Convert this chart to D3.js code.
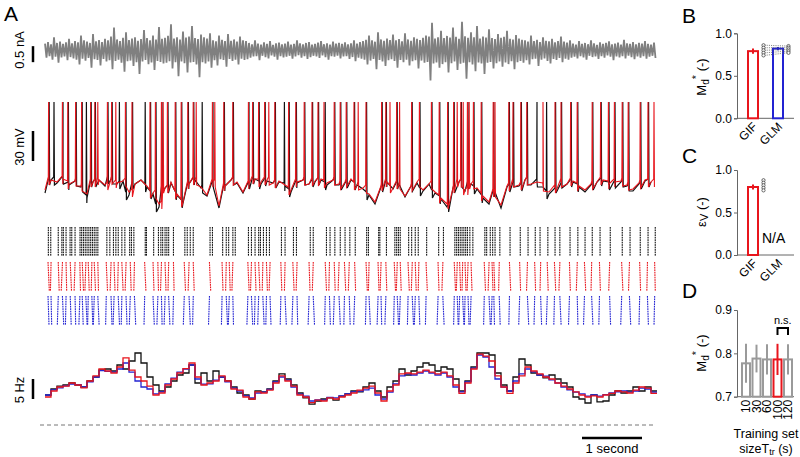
<!DOCTYPE html>
<html>
<head>
<meta charset="utf-8">
<title>GIF / GLM spike prediction</title>
<script src="https://cdn.jsdelivr.net/npm/d3@7"></script>
<style>
  body { margin: 0; background: #fff; }
  text { font-family: "Liberation Sans", Arial, sans-serif; }
</style>
</head>
<body>
<svg id="fig" width="800" height="457"></svg>
<script>
// ---- panel A data ----
// injected current, upper / lower excursion per 50 ms bin (nA)
var currentHi = [
  .20,.25,.18,.40,.22,.26,.19,.24,.35,.21, .28,.24,.45,.30,.26,.22,.50,.27,.31,.25,
  .35,.30,.42,.70,.33,.28,.38,.55,.31,.36, .40,.29,.34,.62,.37,.30,.45,.33,.72,.35,
  .38,.44,.80,.36,.40,.33,.58,.39,.42,.75, .37,.34,.48,.40,.36,.52,
  .30,.27,.45,.32,.28,.50,.29,.33,.26,.42,.30,.28,
  .22,.18,.30,.20,.17,.24,.19,.28,.16,.21,.23,.18,
  .20,.26,.17,.19,.30,.21,.18,.22,.25,.17, .19,.23,.28,.18,.21,.17,.26,.20,.22,.19,
  .24,.18,.21,.30,.20,.25,
  .28,.32,.45,.30,.26,.55,.33,.29,.36,.31, .48,.30,.34,.27,.52,.33,.29,.40,.35,.31,
  .38,.45,.42,.85,.36,.40,.60,.37,.44,.39, .70,.41,.35,.88,.43,.38,.55,.40,.75,.36,
  .42,.39,.65,.37,.34,.50,.38,.41,.60,.35,.33,.47,.36,.32,
  .30,.26,.45,.28,.32,.25,.40,.29,.27,.35,.24,.28,.42,.26,.23,.30,
  .20,.17,.28,.19,.22,.18,.30,.21,.16,.24, .19,.22,.27,.18,.20,.23,.17,.32,.21,.19,
  .25,.18,.22,.20,.28,.19,.17,.23];
var currentLo = [
  -.24,-.19,-.30,-.21,-.40,-.23,-.20,-.32,-.22,-.26, -.30,-.45,-.27,-.33,-.25,-.55,-.29,-.31,-.48,-.28,
  -.36,-.32,-.60,-.34,-.30,-.40,-.68,-.35,-.33,-.50, -.38,-.75,-.36,-.31,-.44,-.39,-.62,-.34,-.37,-.42,
  -.40,-.35,-.58,-.38,-.82,-.36,-.41,-.70,-.39,-.37, -.45,-.85,-.38,-.42,-.36,-.55,
  -.32,-.48,-.29,-.31,-.52,-.28,-.34,-.30,-.45,-.27,-.31,-.29,
  -.24,-.20,-.19,-.32,-.18,-.22,-.26,-.17,-.21,-.30,-.19,-.23,
  -.21,-.18,-.27,-.20,-.16,-.24,-.19,-.28,-.22,-.18, -.20,-.25,-.17,-.22,-.30,-.19,-.21,-.18,-.26,-.20,
  -.19,-.28,-.22,-.35,-.24,-.27,
  -.30,-.45,-.33,-.28,-.60,-.31,-.36,-.50,-.32,-.29, -.34,-.55,-.31,-.38,-.30,-.48,-.35,-.32,-.58,-.33,
  -.40,-.37,-.95,-.42,-.39,-.55,-.44,-.38,-.70,-.41, -.36,-.62,-.43,-.40,-.90,-.38,-.45,-.66,-.39,-.42,
  -.75,-.40,-.37,-.58,-.41,-.36,-.52,-.39,-.44,-.35,-.60,-.38,-.34,-.40,
  -.32,-.45,-.29,-.27,-.50,-.30,-.26,-.34,-.42,-.28,-.31,-.25,-.38,-.27,-.30,-.24,
  -.21,-.26,-.19,-.23,-.30,-.18,-.22,-.20,-.28,-.19, -.24,-.17,-.21,-.32,-.20,-.23,-.19,-.26,-.18,-.22,
  -.29,-.20,-.24,-.19,-.27,-.21,-.18,-.25];

// subthreshold membrane potential every 100 ms (mV)
var vmData = [
  -71,-58,-61,-57,-63,-59,-65,-76,-60,-58, -64,-57,-62,-59,-73,-62,-58,-65,-72,-85,
  -66,-61,-73,-81,-62,-58,-66,-74,-61,-86, -64,-58,-61,-71,-62,-57,-62,-59,-61,-60,
  -64,-70,-61,-58,-62,-60,-58,-63,-58,-63, -61,-58,-63,-67,-73,-82,-65,-60,-67,-62,
  -75,-64,-61,-69,-62,-71,-77,-85,-66,-60, -69,-62,-67,-76,-82,-70,-86,-65,-60,-64,
  -58,-63,-60,-65,-72,-66,-61,-62,-60,-65, -70,-63,-60,-59,-63,-61,-60,-64,-69,-62,
  -59,-60];
var vmGIF = [
  -68,-58,-60,-57,-62,-59,-64,-72,-60,-58, -63,-57,-61,-59,-70,-62,-58,-64,-71,-82,
  -66,-60,-72,-80,-62,-58,-65,-73,-60,-84, -64,-58,-60,-70,-62,-57,-60,-58,-61,-59,
  -63,-68,-60,-58,-62,-59,-57,-61,-58,-62, -60,-57,-63,-66,-72,-80,-64,-60,-66,-62,
  -74,-64,-60,-68,-62,-70,-76,-82,-66,-60, -68,-62,-66,-74,-80,-70,-83,-64,-60,-63,
  -58,-62,-60,-64,-70,-66,-60,-62,-59,-64, -68,-62,-60,-58,-62,-60,-59,-63,-67,-61,
  -58,-60];
var spikeData = [0.07,0.15,0.30,0.39,0.52,0.62,0.69,0.77,0.84,1.05,1.12,1.24,1.35,1.46,1.67,1.76,1.85,1.95,
  2.05,2.18,2.28,2.39,2.48,2.62,2.80,2.99,3.14,3.40,3.47,3.57,3.67,3.84,3.99,4.07,4.19,4.33,4.46,4.56,
  4.67,4.83,4.93,5.03,5.16,5.36,5.62,5.69,5.87,6.12,6.25,6.45,6.58,6.72,6.82,6.94,7.05,7.15,7.28,7.48,
  7.74,7.81,7.94,8.04,8.20,8.36,8.51,8.61,8.77,8.88,9.13,9.27,9.40,9.50,9.63,9.73,9.93,10.06];
var spikeGIF = [0.06,0.29,0.38,0.51,0.61,0.76,0.83,0.88,1.04,1.11,1.18,1.34,1.45,1.75,1.84,1.94,1.97,2.04,
  2.17,2.27,2.38,2.47,2.52,2.79,2.83,2.98,3.13,3.39,3.46,3.56,3.66,3.73,3.83,4.06,4.18,4.32,4.45,4.55,
  4.65,4.82,4.92,5.02,5.15,5.22,5.35,5.61,5.68,5.75,5.86,5.91,6.11,6.24,6.44,6.57,6.71,6.81,6.87,6.93,
  6.97,7.04,7.07,7.14,7.27,7.47,7.50,7.73,7.80,7.93,8.03,8.30,8.50,8.60,8.76,8.87,9.12,9.26,9.39,9.49,
  9.62,9.72,9.92,10.05,10.15];

// raster columns: data (aligned times); GIF / GLM as [time, drift from first to last trial]
var rasterData = [0.055,0.095,0.22,0.28,0.305,0.35,0.417,0.445,0.5,0.583,0.61,0.64,0.67,0.70,0.73,0.76,0.79,
  0.82,0.85,0.88,1.03,1.08,1.14,1.18,1.22,1.28,1.33,1.41,1.44,1.48,1.67,1.69,1.81,1.89,1.93,1.96,2.0,2.03,
  2.06,2.14,2.33,2.37,2.42,2.47,2.75,2.79,2.96,3.02,3.06,3.13,3.17,3.39,3.44,3.5,3.56,3.59,3.64,3.69,3.74,
  3.94,4.0,4.14,4.19,4.42,4.47,4.69,4.75,4.83,4.92,5.0,5.08,5.17,5.36,5.39,5.56,5.58,5.69,5.83,5.86,5.89,
  5.92,6.06,6.11,6.17,6.22,6.36,6.56,6.64,6.83,6.86,6.89,6.92,6.95,6.98,7.01,7.04,7.08,7.13,7.33,7.36,7.42,
  7.46,7.5,7.58,7.75,7.92,8.05,8.17,8.25,8.38,8.5,8.58,8.75,8.88,9.0,9.12,9.25,9.42,9.62,9.75,9.92,10.05,10.17];
var rasterGIF = [[0.05,.02],[0.10,-.01],[0.22,.015],[0.29,-.02],[0.35,.01],[0.42,.02],[0.50,-.015],[0.58,.01],
  [0.62,.02],[0.68,-.015],[0.72,.015],[0.78,-.01],[0.82,.02],[0.88,.01],[1.02,.02],[1.10,-.015],[1.15,.015],
  [1.22,-.01],[1.28,.02],[1.35,-.015],[1.42,.015],[1.49,-.01],[1.66,.02],[1.80,.015],[1.88,.01],[1.94,-.015],
  [2.00,.015],[2.06,-.01],[2.14,.01],[2.32,.02],[2.40,-.015],[2.47,.015],[2.74,.02],[2.95,.015],[3.02,-.01],
  [3.07,.015],[3.13,-.015],[3.38,.02],[3.44,-.015],[3.50,.015],[3.56,.02],[3.63,-.01],[3.69,.015],[3.75,-.015],
  [3.93,.015],[4.00,-.01],[4.13,.02],[4.20,-.015],[4.40,.015],[4.47,-.015],[4.67,.02],[4.74,-.01],[4.82,.015],
  [4.90,-.015],[4.99,.02],[5.07,-.015],[5.16,.015],[5.35,.02],[5.40,-.01],[5.55,.015],[5.60,-.015],[5.68,.015],
  [5.82,.02],[5.87,-.015],[5.92,.015],[6.05,.02],[6.12,-.015],[6.17,.015],[6.23,-.01],[6.35,.02],[6.55,.015],
  [6.63,-.015],[6.82,.02],[6.87,-.015],[6.91,.015],[6.96,-.01],[7.00,.015],[7.05,-.015],[7.10,.015],[7.32,.02],
  [7.40,-.015],[7.45,.015],[7.48,.015],[7.57,-.01],[7.74,.02],[7.91,.015],[8.04,-.015],[8.16,.015],[8.26,-.01],
  [8.37,.015],[8.49,.02],[8.58,-.015],[8.74,.015],[8.87,-.015],[8.99,.02],[9.11,-.01],[9.24,.015],[9.41,-.015],
  [9.61,.02],[9.74,-.015],[9.91,.015],[10.04,-.01],[10.16,.01]];
var rasterGLM = [[0.05,.015],[0.10,.01],[0.22,-.015],[0.29,.02],[0.35,-.01],[0.42,.015],[0.50,.01],[0.58,-.015],
  [0.62,.015],[0.68,.02],[0.72,-.01],[0.78,.015],[0.82,-.015],[0.88,.02],[1.02,-.01],[1.10,.015],[1.15,-.015],
  [1.22,.02],[1.28,-.01],[1.35,.015],[1.42,-.015],[1.49,.02],[1.66,-.01],[1.80,.02],[1.88,-.015],[1.94,.01],
  [2.00,-.015],[2.06,.02],[2.14,-.01],[2.32,-.015],[2.40,.02],[2.47,-.01],[2.74,-.015],[2.95,-.01],[3.02,.02],
  [3.07,-.015],[3.13,.01],[3.38,-.015],[3.44,.02],[3.50,-.01],[3.56,-.015],[3.63,.02],[3.69,-.01],[3.75,.015],
  [3.93,-.01],[4.00,.02],[4.13,-.015],[4.20,.01],[4.40,-.015],[4.47,.02],[4.67,-.01],[4.74,.015],[4.82,-.015],
  [4.90,.02],[4.99,-.01],[5.07,.015],[5.16,-.015],[5.35,-.01],[5.40,.02],[5.55,-.015],[5.60,.01],[5.68,-.015],
  [5.82,-.01],[5.87,.02],[5.92,-.015],[6.05,-.01],[6.12,.02],[6.17,-.015],[6.23,.015],[6.35,-.01],[6.55,-.015],
  [6.63,.02],[6.82,-.01],[6.87,.015],[6.91,-.015],[6.96,.02],[7.00,-.01],[7.05,.015],[7.10,-.015],[7.32,-.01],
  [7.40,.02],[7.45,-.015],[7.48,.01],[7.57,.015],[7.74,-.01],[7.91,-.015],[8.04,.02],[8.16,-.01],[8.26,.015],
  [8.37,-.015],[8.49,-.01],[8.58,.02],[8.74,-.015],[8.87,.01],[8.99,-.015],[9.11,.02],[9.24,-.01],[9.41,.015],
  [9.61,-.015],[9.74,.02],[9.91,-.01],[10.04,.015],[10.16,-.01]];

// PSTH, 100 ms steps (Hz)
var psthData = [7.5,9,9.7,10,10.5,10,9.5,11,12,13.8, 14,13.5,15,14,16,18,15.5,12,10,8.5,
  9.5,11,12.5,13,15,10.5,13,11,13.5,12, 11,9.5,8,7.5,6.5,8.5,8.3,9,11,12.8,
  11.5,10,8,6.8,5.2,6,6.5,6.8,6.2,7.2, 7.8,8.5,8.3,9.5,10.5,8.5,7,9.5,11,14,
  12.5,13.5,14.5,15.5,15,13.5,14.5,14,11.5,8.5, 11,14.5,18,18,17.5,13,10,8.5,12,16.5,
  15,13,12.5,11.8,12.5,11.5,10.5,9.5,7,6.5, 5.5,7.5,5.8,6,7.5,8.5,8,8.5,9.5,8.5, 9.5,8.5];
var psthGLM = [7.5,8.8,9.3,9.8,10.2,10.1,9.5,10.8,12,13.6, 13.4,13.2,14,15.5,13.2,11,9.5,9,7.8,8.3,
  10.3,11.7,13.2,14,15,11.5,10.2,10.3,11.2,12, 10.8,9.2,8.5,7.3,6.8,8,8.2,8.9,10.8,12,
  11.2,9.5,7.7,7.2,6,6.3,6.2,6.9,6.8,7.3, 7.8,8.3,8.5,8.8,9.2,7.5,6.5,8.2,10.3,12.3,
  12.8,12.5,13,13.5,13,12.5,13,12,9.5,8.3, 10.8,14.2,17.5,17,14.5,11.5,9.5,8.5,11,12.8,
  14,13.3,12.5,12.2,11.3,10.5,9.5,8.8,8.2,7.8, 7.2,7.5,7.2,7.6,8,8.3,8.5,8.2,8.5,9.2, 9,8.2];
var psthGIF = [7,8.5,9.5,9.7,10.5,10,9.3,11,12.3,14, 13.5,13,14.5,16.8,13.7,12,11,9.7,7.5,8,
  10,11.5,13,14.1,15.5,12,10,10.5,11,12.3, 11,9,8.7,7,6.5,8.3,8,8.7,10.5,12.3,
  11,9.7,7.5,7,5.6,6.2,6,6.8,6.5,7, 7.5,8,8.7,9.2,9.7,8,6,8.5,10,12.8,
  13,12.8,13.2,13.7,13.2,12.8,13.2,12.3,10,7.9, 10.5,14,17.7,17.2,16,12.3,9.5,7.9,10.5,12.3,
  14.5,13.5,12.8,12,11.5,10.5,9.7,9,8.3,7.5, 7,7.3,7,7.5,7.9,8.5,8.3,8,8.7,9.5, 9.2,7.9];

// ---- panels B-D data ----
var models = ["GIF", "GLM"];
var mdMean = [0.79, 0.82];
var mdErr = [0.03, 0.02];
var mdCellsGIF = [0.86, 0.83, 0.80, 0.77, 0.74];
var mdCellsGLM = [0.85, 0.83, 0.81, 0.79, 0.77];
var evMean = [0.80];
var evErr = [0.03];
var evCellsGIF = [0.88, 0.85, 0.82, 0.79, 0.76];
var trainSizes = ["10", "30", "60", "100", "120"];
var trainMean = [0.777, 0.788, 0.786, 0.786, 0.786];
var trainSd = [0.045, 0.032, 0.035, 0.036, 0.035];

var RED = "#e8151c", BLUE = "#2323d2", GRAY = "#808080";

var svg = d3.select("#fig");

var xT = d3.scaleLinear().domain([0, 10.2]).range([45, 657]);
var yI = d3.scaleLinear().domain([-1, 1]).range([82, 18]);
var yV = d3.scaleLinear().domain([-85, 20]).range([207, 102]);
var yR = d3.scaleLinear().domain([0, 20]).range([425, 345]);

function label(x, y, txt, size, rot) {
  return svg.append("text").attr("transform", "translate(" + x + "," + y + ")" + (rot ? " rotate(" + rot + ")" : ""))
    .attr("text-anchor", "middle").style("font-size", size + "px").text(txt);
}

// panel letters
[["A", 4, 21], ["B", 682, 23], ["C", 682, 163], ["D", 682, 298]].forEach(function(d) {
  svg.append("text").attr("x", d[1]).attr("y", d[2]).style("font-size", "21px").text(d[0]);
});

// current trace
var curPts = [];
currentHi.forEach(function(v, i) {
  curPts.push([i * 0.05, v]);
  curPts.push([i * 0.05 + 0.025, currentLo[i]]);
});
svg.append("path").datum(curPts)
  .attr("d", d3.line().x(function(d) { return xT(d[0]); }).y(function(d) { return yI(d[1]); }))
  .attr("fill", "none").attr("stroke", GRAY).attr("stroke-width", 1.8).attr("stroke-linejoin", "bevel");

// voltage traces
function vmPoints(sub, spikes) {
  var pts = sub.map(function(v, i) { return [i * 0.1, v]; });
  spikes.forEach(function(t) {
    var v = sub[Math.min(sub.length - 1, Math.round(t / 0.1))];
    pts.push([t - 0.005, v + 3], [t, 20], [t + 0.007, v - 5]);
  });
  pts.sort(function(a, b) { return a[0] - b[0]; });
  return pts;
}
var vLine = d3.line().x(function(d) { return xT(d[0]); }).y(function(d) { return yV(d[1]); });
svg.append("path").datum(vmPoints(vmData, spikeData)).attr("d", vLine)
  .attr("fill", "none").attr("stroke", "#111").attr("stroke-width", 1.2);
svg.append("path").datum(vmPoints(vmGIF, spikeGIF)).attr("d", vLine)
  .attr("fill", "none").attr("stroke", RED).attr("stroke-width", 1.1);

// rasters
var nTrials = 12, rowGap = 2.45;
function raster(top, cols, color) {
  var ticks = [];
  cols.forEach(function(c) {
    var t0 = Array.isArray(c) ? c[0] : c, dr = Array.isArray(c) ? c[1] : 0;
    for (var k = 0; k < nTrials; k++) ticks.push([t0 + dr * k / (nTrials - 1), k]);
  });
  svg.append("g").selectAll("rect").data(ticks).enter().append("rect")
    .attr("x", function(d) { return xT(d[0]) - 0.5; })
    .attr("y", function(d) { return top + d[1] * rowGap; })
    .attr("width", 1.1).attr("height", 1.7).attr("fill", color);
}
raster(227, rasterData, "#111");
raster(262, rasterGIF, RED);
raster(296, rasterGLM, BLUE);

// PSTH
var pLine = d3.line().curve(d3.curveStepAfter).x(function(d) { return xT(d[0]); }).y(function(d) { return yR(d[1]); });
function psthPts(arr) {
  var p = arr.map(function(v, i) { return [i * 0.1, v]; });
  p.push([10.2, arr[arr.length - 1]]);
  return p;
}
[[psthData, "#111"], [psthGLM, BLUE], [psthGIF, RED]].forEach(function(s) {
  svg.append("path").datum(psthPts(s[0])).attr("d", pLine)
    .attr("fill", "none").attr("stroke", s[1]).attr("stroke-width", 1.3);
});
svg.append("line").attr("x1", 40).attr("x2", 655).attr("y1", yR(0)).attr("y2", yR(0))
  .attr("stroke", "#777").attr("stroke-width", 1).attr("stroke-dasharray", "4,3");

// scale bars
function vbar(y1, y2) {
  svg.append("line").attr("x1", 33).attr("x2", 33).attr("y1", y1).attr("y2", y2)
    .attr("stroke", "#000").attr("stroke-width", 2.5);
}
vbar(yI(0.12), yI(-0.38)); label(24, 50, "0.5 nA", 13, -90);
vbar(yV(-9), yV(-39)); label(24, 147, "30 mV", 13, -90);
vbar(yR(11.5), yR(6.5)); label(24, 390, "5 Hz", 13, -90);
svg.append("line").attr("x1", xT(8.95)).attr("x2", xT(9.95)).attr("y1", 438).attr("y2", 438)
  .attr("stroke", "#000").attr("stroke-width", 2.5);
svg.append("text").attr("x", xT(9.45)).attr("y", 453).attr("text-anchor", "middle")
  .style("font-size", "13px").text("1 second");

// ---- bar panels ----
function yAxis(scale, ticks, fmt) {
  var g = svg.append("g").attr("transform", "translate(737,0)")
    .call(d3.axisLeft(scale).tickValues(ticks).tickFormat(d3.format(fmt)).tickSize(3).tickPadding(2));
  g.select(".domain").attr("stroke", "#666");
  g.selectAll(".tick line").attr("stroke", "#666");
  g.selectAll(".tick text").style("font-size", "12px").style("font-family", "Liberation Sans, Arial, sans-serif").attr("fill", "#000");
  return g;
}
function xBase(y, x2) {
  svg.append("line").attr("x1", 737).attr("x2", x2).attr("y1", y).attr("y2", y).attr("stroke", "#666");
}
function mdLabel(x, y) {
  var t = svg.append("text").attr("transform", "translate(" + x + "," + y + ") rotate(-90)")
    .attr("text-anchor", "middle").style("font-size", "13px");
  t.append("tspan").text("M");
  t.append("tspan").attr("dy", 3).style("font-size", "10px").text("d");
  t.append("tspan").attr("dy", -9).style("font-size", "11px").text("*");
  t.append("tspan").attr("dy", 6).text(" (-)");
}
function rotLabels(scale, y, names) {
  names.forEach(function(m) {
    svg.append("text").attr("transform", "translate(" + (scale(m) + 5) + "," + (y + 9) + ") rotate(-45)")
      .attr("text-anchor", "end").style("font-size", "12px").text(m);
  });
}

// panel B
var yB = d3.scaleLinear().domain([0, 1]).range([118.3, 33.3]);
var xB = d3.scalePoint().domain(models).range([753, 778]);
yAxis(yB, [0, 0.5, 1], ".1f");
xBase(yB(0), 794);
mdLabel(706, 77);
var barCol = [RED, BLUE];
models.forEach(function(m, i) {
  var cx = xB(m);
  svg.append("rect").attr("x", cx - 5).attr("y", yB(mdMean[i])).attr("width", 10)
    .attr("height", yB(0) - yB(mdMean[i])).attr("fill", "#fff").attr("stroke", barCol[i]).attr("stroke-width", 2);
  svg.append("line").attr("x1", cx).attr("x2", cx).attr("y1", yB(mdMean[i] - mdErr[i])).attr("y2", yB(mdMean[i] + mdErr[i]))
    .attr("stroke", barCol[i]).attr("stroke-width", 2);
});
mdCellsGIF.forEach(function(v, i) {
  svg.append("line").attr("x1", xB("GIF") + 11.5).attr("x2", xB("GLM") + 9)
    .attr("y1", yB(v)).attr("y2", yB(mdCellsGLM[i]))
    .attr("stroke", "#555").attr("stroke-width", 0.8).attr("stroke-dasharray", "1,1.2");
});
[[mdCellsGIF, "GIF"], [mdCellsGLM, "GLM"]].forEach(function(s) {
  svg.append("g").selectAll("circle").data(s[0]).enter().append("circle")
    .attr("cx", xB(s[1]) + 10.5).attr("cy", function(d) { return yB(d); }).attr("r", 1.6)
    .attr("fill", "#fff").attr("stroke", "#444").attr("stroke-width", 0.8);
});
rotLabels(xB, yB(0), models);

// panel C
var yC = d3.scaleLinear().domain([0, 1]).range([255, 170]);
yAxis(yC, [0, 0.5, 1], ".1f");
xBase(yC(0), 794);
var tC = svg.append("text").attr("transform", "translate(706,212) rotate(-90)")
  .attr("text-anchor", "middle").style("font-size", "13px");
tC.append("tspan").text("ε");
tC.append("tspan").attr("dy", 2).style("font-size", "11px").text("V");
tC.append("tspan").attr("dy", -2).text(" (-)");
svg.append("rect").attr("x", xB("GIF") - 5).attr("y", yC(evMean[0])).attr("width", 10)
  .attr("height", yC(0) - yC(evMean[0])).attr("fill", "#fff").attr("stroke", RED).attr("stroke-width", 2);
svg.append("line").attr("x1", xB("GIF")).attr("x2", xB("GIF"))
  .attr("y1", yC(evMean[0] - evErr[0])).attr("y2", yC(evMean[0] + evErr[0])).attr("stroke", RED).attr("stroke-width", 2);
svg.append("g").selectAll("circle").data(evCellsGIF).enter().append("circle")
  .attr("cx", xB("GIF") + 10.5).attr("cy", function(d) { return yC(d); }).attr("r", 1.6)
  .attr("fill", "#fff").attr("stroke", "#444").attr("stroke-width", 0.8);
svg.append("text").attr("x", 762).attr("y", 243).style("font-size", "14px").text("N/A");
rotLabels(xB, yC(0), models);

// panel D
var yD = d3.scaleLinear().domain([0.7, 0.9]).range([396.7, 310]);
var xD = d3.scalePoint().domain(trainSizes).range([746, 788]);
yAxis(yD, [0.7, 0.8, 0.9], ".1f");
xBase(yD(0.7), 794);
mdLabel(706, 353);
trainSizes.forEach(function(s, i) {
  var cx = xD(s), col = s === "100" ? RED : "#9a9a9a";
  svg.append("rect").attr("x", cx - 4).attr("y", yD(trainMean[i])).attr("width", 8)
    .attr("height", yD(0.7) - yD(trainMean[i])).attr("fill", "#fff").attr("stroke", col).attr("stroke-width", 2);
  svg.append("line").attr("x1", cx).attr("x2", cx)
    .attr("y1", yD(Math.max(0.7, trainMean[i] - trainSd[i]))).attr("y2", yD(trainMean[i] + trainSd[i]))
    .attr("stroke", col).attr("stroke-width", 2);
  svg.append("text").attr("transform", "translate(" + (cx + 4) + "," + (yD(0.7) + 3) + ") rotate(-90)")
    .attr("text-anchor", "end").style("font-size", "12px").text(s);
});
svg.append("path").attr("d", "M" + xD("100") + "," + 335 + "V" + 328 + "H" + xD("120") + "V" + 335)
  .attr("fill", "none").attr("stroke", "#000").attr("stroke-width", 2);
svg.append("text").attr("x", (xD("100") + xD("120")) / 2).attr("y", 324).attr("text-anchor", "middle")
  .style("font-size", "11px").text("n.s.");
svg.append("text").attr("x", 766).attr("y", 438).attr("text-anchor", "middle").style("font-size", "12.5px").text("Training set");
var tD = svg.append("text").attr("x", 766).attr("y", 453).attr("text-anchor", "middle").style("font-size", "12.5px");
tD.append("tspan").text("sizeT");
tD.append("tspan").attr("dy", 2).style("font-size", "9px").text("tr");
tD.append("tspan").attr("dy", -2).text(" (s)");
</script>
</body>
</html>
